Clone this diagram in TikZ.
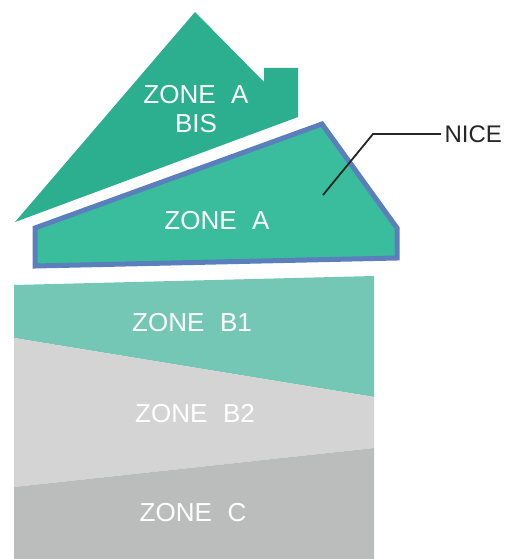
\documentclass[tikz,border=0pt]{standalone}
\usepackage{fontspec}
\setmainfont{Liberation Sans}
\usepackage{xcolor}

\definecolor{zonebis}{HTML}{2BAF8E}
\definecolor{zonea}{HTML}{3ABD9D}
\definecolor{zoneline}{HTML}{5A7FBC}
\definecolor{zoneb1}{HTML}{74C7B4}
\definecolor{zoneb2}{HTML}{D4D4D4}
\definecolor{zonec}{HTML}{BBBDBC}
\definecolor{leader}{HTML}{262626}

\newcommand{\zsp}{\hspace{0.6em}}

\begin{document}
\begin{tikzpicture}[x=1pt,y=-1pt,
  zonelabel/.style={text=white,font=\fontsize{26}{30}\selectfont,align=center},
  callout/.style={text=leader,font=\fontsize{24}{28}\selectfont,anchor=west}]

\useasboundingbox (0,0) rectangle (505,559);

% roof with chimney:
\fill[zonebis] (15,222) -- (195,12) -- (264,82) -- (264,68) -- (298,68) -- (298,117) -- cycle;
\node[zonelabel] (bis) at (196,109) {ZONE\zsp A\\[-1pt]BIS};

% zone A, outlined:
\draw[fill=zonea,draw=zoneline,line width=5pt,line join=miter]
  (35,228) -- (322,124) -- (397,228) -- (397,258) -- (35,266) -- cycle;
\node[zonelabel] (a) at (217,221) {ZONE\zsp A};

% lower block:
\fill[zoneb1] (14,285) -- (374,276) -- (374,397) -- (14,338) -- cycle;
\fill[zoneb2] (14,338) -- (374,397) -- (374,448) -- (14,487) -- cycle;
\fill[zonec]  (14,487) -- (374,448) -- (374,559) -- (14,559) -- cycle;

\node[zonelabel] (b1) at (192,323) {ZONE\zsp B1};
\node[zonelabel] (b2) at (195,414) {ZONE\zsp B2};
\node[zonelabel] (c)  at (193,513) {ZONE\zsp C};

% callout:
\node[callout] (nice) at (441,134) {NICE};
\coordinate (tip) at (323,195);
\draw[leader,line width=1.8pt] (tip) -- (373,134) -- (nice.west);

\end{tikzpicture}
\end{document}
